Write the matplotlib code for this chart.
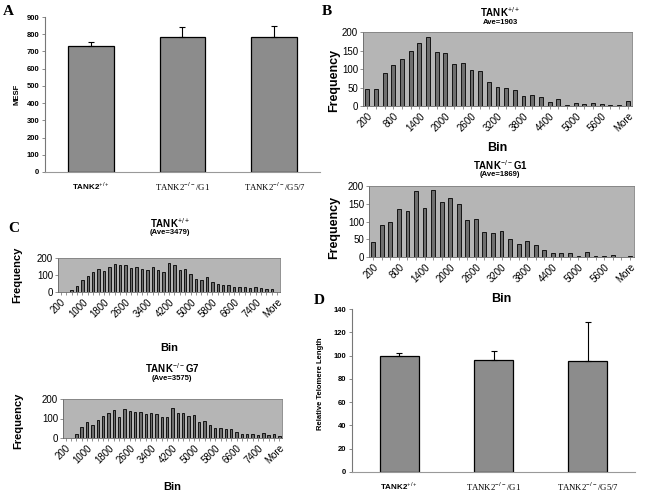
import matplotlib
matplotlib.use("Agg")
import matplotlib.pyplot as plt

plt.rcParams['font.family'] = ['Liberation Sans', 'DejaVu Sans']
plt.rcParams['mathtext.fontset'] = 'custom'
plt.rcParams['mathtext.rm'] = 'Liberation Sans'
plt.rcParams['mathtext.bf'] = 'Liberation Sans:bold'

# panel A / D: bar charts
groups = ['TANK2$^{+/+}$', 'TANK2$^{-/-}$/G1', 'TANK2$^{-/-}$/G5/7']
mesf_vals = [730, 785, 785]
mesf_err = [25, 55, 60]
rtl_vals = [100, 96, 95]
rtl_err = [2, 8, 34]

# panel B: telomere length histograms, bins 200..6000 + More
b_bins = [str(v) for v in range(200, 6001, 200)] + ['More']
b_wt = [47, 47, 88, 110, 128, 148, 170, 186, 146, 142, 114, 116, 98, 94, 66, 52,
        48, 42, 26, 29, 25, 12, 19, 4, 7, 5, 7, 5, 3, 3, 14]
b_g1 = [43, 90, 100, 135, 130, 185, 137, 188, 155, 165, 150, 105, 107, 70, 67, 74,
        52, 36, 44, 33, 20, 12, 10, 12, 4, 13, 2, 2, 5, 0, 4]

# panel C: bins 200..8000 + More
c_bins = [str(v) for v in range(200, 8001, 200)] + ['More']
c_wt = [0, 0, 14, 33, 69, 92, 116, 133, 122, 149, 163, 157, 157, 143, 149, 137, 129,
        149, 131, 118, 171, 157, 129, 133, 104, 78, 69, 88, 61, 45, 43, 39, 29, 27,
        27, 25, 27, 22, 16, 16, 0]
c_g7 = [0, 0, 22, 56, 80, 67, 94, 115, 126, 145, 110, 150, 140, 132, 133, 121, 126,
        125, 109, 109, 156, 128, 130, 115, 116, 82, 85, 68, 53, 52, 48, 48, 31, 22,
        22, 21, 15, 24, 14, 22, 9]

W, H = 647, 495
fig = plt.figure(figsize=(W / 100, H / 100), dpi=100)


def ax_px(left, top, right, bottom):
    return fig.add_axes([left / W, 1 - bottom / H, (right - left) / W, (bottom - top) / H])


def bar_panel(ax, vals, err, ymax, ystep, width, ylabel):
    x = range(len(vals))
    ax.bar(x, vals, width=width, color='#8c8c8c', edgecolor='black', linewidth=0.9, zorder=2)
    ax.errorbar(x, vals, yerr=[[0] * len(err), err], fmt='none', ecolor='black',
                elinewidth=0.8, capsize=2.5, capthick=0.8, zorder=3)
    ax.set_xlim(-0.5, len(vals) - 0.5)
    ax.set_ylim(0, ymax)
    ax.set_yticks(range(0, ymax + 1, ystep))
    for s in ['top', 'right']:
        ax.spines[s].set_visible(False)
    ax.spines['left'].set_color('#777777')
    ax.spines['bottom'].set_color('#999999')
    ax.tick_params(axis='y', labelsize=5.5, length=2, width=0.6, color='#777777', pad=2)
    for t in ax.get_yticklabels():
        t.set_fontweight('bold')
    ax.set_xticks(list(x))
    ax.set_xticklabels(groups)
    ax.tick_params(axis='x', length=0, pad=6)
    labs = ax.get_xticklabels()
    labs[0].set_fontweight('bold')
    labs[0].set_fontsize(5.8)
    for t in labs[1:]:
        t.set_family(['Liberation Serif'])
        t.set_fontsize(6.3)
    ax.set_ylabel(ylabel, fontsize=5.5, fontweight='bold')


def hist_panel(ax, vals, bins, every, ystep, tick_fs, lab_fs):
    x = range(len(vals))
    ax.set_facecolor('#b5b5b5')
    ax.bar(x, vals, width=0.45, color='#6e6e6e', edgecolor='black', linewidth=0.6, zorder=2)
    ax.set_xlim(-0.5, len(vals) - 0.5)
    ax.set_ylim(0, 200)
    ax.set_yticks(range(0, 201, ystep))
    for s in ['top', 'right']:
        ax.spines[s].set_color('#808080')
        ax.spines[s].set_linewidth(0.6)
    ax.spines['left'].set_color('#666666')
    ax.spines['bottom'].set_color('#666666')
    ax.spines['left'].set_linewidth(0.6)
    ax.spines['bottom'].set_linewidth(0.6)
    ax.set_xticks(list(x))
    ax.set_xticklabels([b if i % every == 0 else '' for i, b in enumerate(bins)],
                       rotation=45, ha='right', rotation_mode='anchor')
    ax.tick_params(axis='both', labelsize=tick_fs, length=2, width=0.5, color='#666666', pad=1.5)
    ax.set_xlabel('Bin', fontsize=lab_fs, fontweight='bold')
    ax.set_ylabel('Frequency', fontsize=lab_fs, fontweight='bold')


# A
axA = ax_px(45, 17, 320, 172)
bar_panel(axA, mesf_vals, mesf_err, 900, 100, 0.5, 'MESF')
axA.yaxis.set_label_coords(-0.09, 0.5)
fig.text(3 / W, 1 - 15 / H, 'A', family=['Liberation Serif'], fontweight='bold', fontsize=11)

# D
axD = ax_px(352, 309, 635, 472)
bar_panel(axD, rtl_vals, rtl_err, 140, 20, 0.41, 'Relative Telomere Length')
axD.yaxis.set_label_coords(-0.1, 0.54)
fig.text(314 / W, 1 - 304 / H, 'D', family=['Liberation Serif'], fontweight='bold', fontsize=11)

# B top
axB1 = ax_px(363, 32, 632, 106)
hist_panel(axB1, b_wt, b_bins, 3, 50, 7, 9)
axB1.xaxis.set_label_coords(0.5, -0.48)
axB1.yaxis.set_label_coords(-0.085, 0.35)
fig.text(500 / W, 1 - 12 / H, 'TANK$^{+/+}$', ha='center', va='center', fontsize=7, fontweight='bold')
fig.text(500 / W, 1 - 23 / H, 'Ave=1903', ha='center', va='center', fontsize=5.5, fontweight='bold')
fig.text(322 / W, 1 - 15 / H, 'B', family=['Liberation Serif'], fontweight='bold', fontsize=11)

# B bottom
axB2 = ax_px(369, 186, 634, 257)
hist_panel(axB2, b_g1, b_bins, 3, 50, 7, 9)
axB2.xaxis.set_label_coords(0.5, -0.5)
axB2.yaxis.set_label_coords(-0.11, 0.42)
fig.text(500 / W, 1 - 165 / H, 'TANK$^{-/-}$G1', ha='center', va='center', fontsize=7, fontweight='bold')
fig.text(500 / W, 1 - 175 / H, '(Ave=1869)', ha='center', va='center', fontsize=5.5, fontweight='bold')

# C top
axC1 = ax_px(58, 258, 280, 292)
hist_panel(axC1, c_wt, c_bins, 4, 100, 7, 8)
axC1.xaxis.set_label_coords(0.5, -1.5)
axC1.yaxis.set_label_coords(-0.16, 0.5)
fig.text(170 / W, 1 - 223 / H, 'TANK$^{+/+}$', ha='center', va='center', fontsize=7, fontweight='bold')
fig.text(170 / W, 1 - 233 / H, '(Ave=3479)', ha='center', va='center', fontsize=5.5, fontweight='bold')
fig.text(8 / W, 1 - 232 / H, 'C', family=['Liberation Serif'], fontweight='bold', fontsize=11)

# C bottom
axC2 = ax_px(63, 399, 282, 438)
hist_panel(axC2, c_g7, c_bins, 4, 100, 7, 8)
axC2.xaxis.set_label_coords(0.5, -1.12)
axC2.yaxis.set_label_coords(-0.18, 0.45)
fig.text(172 / W, 1 - 368 / H, 'TANK$^{-/-}$G7', ha='center', va='center', fontsize=7, fontweight='bold')
fig.text(172 / W, 1 - 379 / H, '(Ave=3575)', ha='center', va='center', fontsize=5.5, fontweight='bold')

fig.savefig('out.png', dpi=100, facecolor='white')
